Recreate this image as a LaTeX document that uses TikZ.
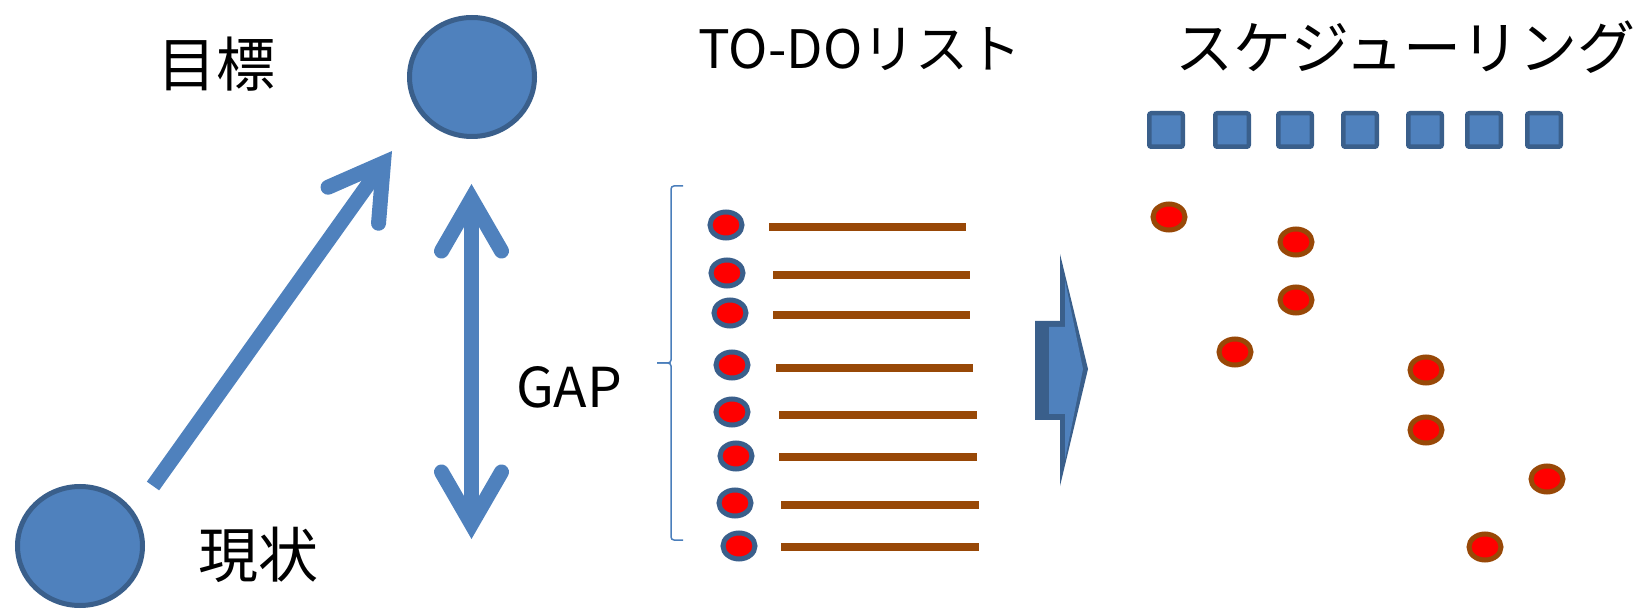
\documentclass[tikz,border=0pt]{standalone}
\usepackage{fontspec}
\setmainfont{Noto Sans CJK JP}
\usetikzlibrary{arrows.meta,shapes.geometric}
\definecolor{pblue}{HTML}{4F81BD}
\definecolor{dblue}{HTML}{3A5F8B}
\definecolor{brn}{HTML}{984807}
\definecolor{brc}{HTML}{4A7EBB}
\begin{document}
\begin{tikzpicture}[x=1pt,y=-1pt,
  bigcirc/.style={ellipse,draw=dblue,fill=pblue,line width=5pt,minimum width=125pt,minimum height=119pt,inner sep=0pt},
  todo/.style={ellipse,draw=dblue,fill=red,line width=5pt,minimum width=32pt,minimum height=26pt,inner sep=0pt},
  sched/.style={ellipse,draw=brn,fill=red,line width=5pt,minimum width=32pt,minimum height=26pt,inner sep=0pt},
  slot/.style={rectangle,draw=dblue,fill=pblue,line width=4.5pt,minimum size=33.5pt,inner sep=0pt,rounded corners=2pt},
  taskline/.style={brn,line width=8pt},
  tipshape/.style={},
  bigarrow/.style={pblue,line width=15pt,-{Straight Barb[length=52pt,width=62pt,line cap=round,line join=miter]}},
  dblarrow/.style={pblue,line width=15pt,{Straight Barb[length=52pt,width=60pt,line cap=round,line join=miter]}-{Straight Barb[length=52pt,width=60pt,line cap=round,line join=miter]}},
  lbl/.style={font=\fontsize{#1}{#1}\selectfont,inner sep=0pt},
  lbl/.default=58
]
\useasboundingbox (0,0) rectangle (1636,609);
% circles
\node[bigcirc] (goal) at (472,77) {};
\node[bigcirc] (cur) at (80,546) {};
\node[lbl=59] (goaltxt) at (216,64) {目標};
\node[lbl=60] (curtxt) at (258,555) {現状};
% diagonal arrow
\coordinate (d1) at (153,486);
\coordinate (d2) at (392,151);
\draw[bigarrow] (d1) -- (d2);
% vertical double arrow
\coordinate (v1) at (471.5,184);
\coordinate (v2) at (471.5,539);
\draw[dblarrow] (v1) -- (v2);
\node[lbl=55] (gap) at (569,387) {GAP};
% brace
\coordinate (b1) at (683,186);
\coordinate (b2) at (683,540);
\coordinate (bm) at (657,363);
\draw[brc,line width=1.5pt,rounded corners=3pt] (b1) -- (671,186) -- (671,363) -- (bm);
\draw[brc,line width=1.5pt,rounded corners=3pt] (bm) -- (671,363) -- (671,540) -- (b2);
\node[lbl=53] (todotxt) at (860,49) {TO-DOリスト};
% todo items
\foreach \i/\cx/\cy/\la/\lb/\ly in {1/726/225/769/966/227, 2/727/273/773/970/275, 3/730/313/773/970/315, 4/732/365/776/973/368, 5/732/412/779/977/415, 6/736/456/779/977/457, 7/735/503/781/979/505, 8/739/546/781/979/547}{
  \node[todo] (t\i) at (\cx,\cy) {};
  \coordinate (la\i) at (\la,\ly);
  \coordinate (lb\i) at (\lb,\ly);
  \draw[taskline] (la\i) -- (lb\i);
}
% block arrow
\fill[dblue] (1035,321) -- (1060,321) -- (1060,254) -- (1088,369) -- (1060,486) -- (1060,420) -- (1035,420) -- cycle;
\fill[pblue] (1049,327) -- (1065,327) -- (1065,280) -- (1083,369) -- (1065,460) -- (1065,414) -- (1049,414) -- cycle;
% scheduling
\node[lbl=58] (schedtxt) at (1405,47) {スケジューリング};
\foreach \i/\cx in {1/1166,2/1232,3/1295,4/1360,5/1425,6/1484,7/1544}{
  \node[slot] (s\i) at (\cx,130) {};
}
\foreach \i/\cx/\cy in {1/1169/217,2/1296/242,3/1296/300,4/1235/352,5/1426/370,6/1426/430,7/1547/479,8/1485/547}{
  \node[sched] (e\i) at (\cx,\cy) {};
}
\end{tikzpicture}
\end{document}
